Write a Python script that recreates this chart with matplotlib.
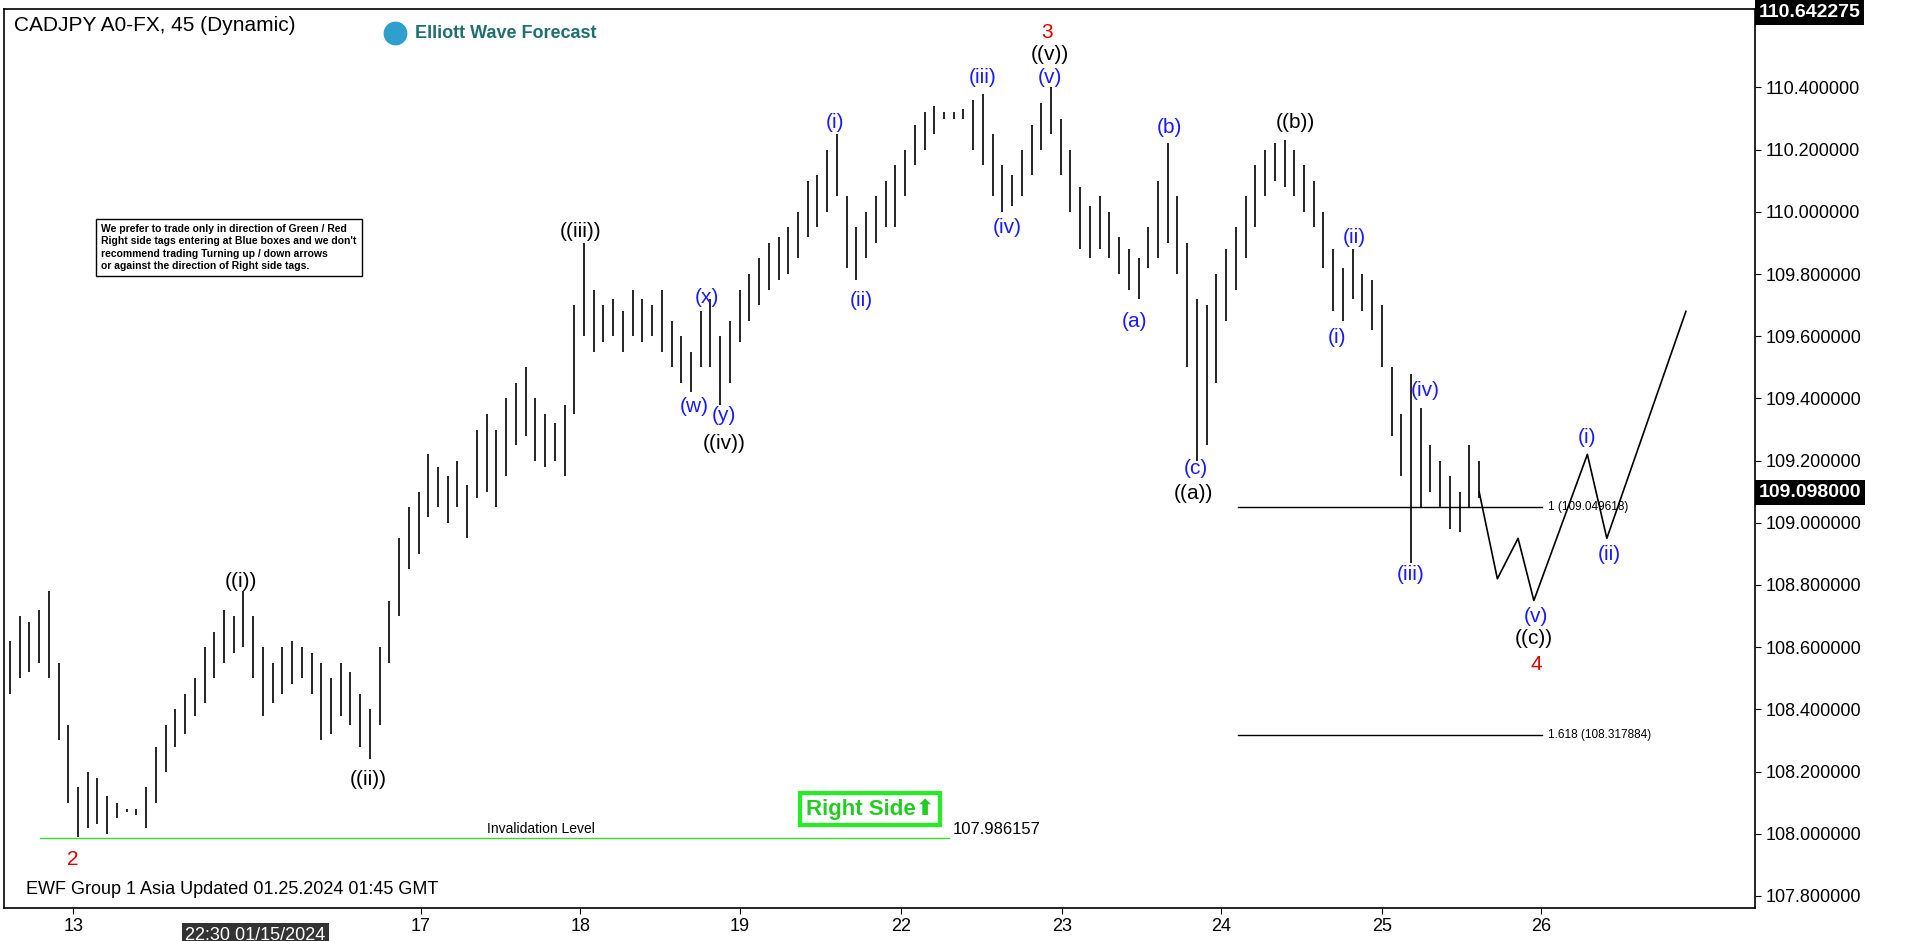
import matplotlib
matplotlib.use("Agg")
import matplotlib.pyplot as plt
from matplotlib.patches import Rectangle

plt.rcParams['font.family'] = ['Arial', 'Liberation Sans', 'DejaVu Sans']

# bar highs / lows (45 min bars, one every 8 chart units)
highs = [108.62, 108.7, 108.68, 108.72, 108.78, 108.55, 108.35, 108.15, 108.2, 108.18,
         108.12, 108.1, 108.08, 108.08, 108.15, 108.28, 108.35, 108.4, 108.45, 108.5,
         108.6, 108.65, 108.72, 108.7, 108.78, 108.7, 108.6, 108.55, 108.6, 108.62,
         108.6, 108.58, 108.55, 108.5, 108.55, 108.52, 108.45, 108.4, 108.6, 108.75,
         108.95, 109.05, 109.1, 109.22, 109.18, 109.15, 109.2, 109.12, 109.3, 109.35,
         109.3, 109.4, 109.45, 109.5, 109.4, 109.35, 109.32, 109.38, 109.7, 109.9,
         109.75, 109.7, 109.72, 109.68, 109.75, 109.72, 109.7, 109.75, 109.65, 109.6,
         109.55, 109.68, 109.72, 109.6, 109.65, 109.75, 109.8, 109.85, 109.9, 109.92,
         109.95, 110.0, 110.1, 110.12, 110.2, 110.25, 110.05, 109.95, 110.0, 110.05,
         110.1, 110.15, 110.2, 110.28, 110.32, 110.34, 110.32, 110.32, 110.33, 110.36,
         110.38, 110.25, 110.15, 110.12, 110.2, 110.28, 110.35, 110.4, 110.3, 110.2,
         110.08, 110.02, 110.05, 110.0, 109.92, 109.88, 109.85, 109.95, 110.1, 110.22,
         110.05, 109.9, 109.72, 109.7, 109.8, 109.88, 109.95, 110.05, 110.15, 110.2,
         110.22, 110.23, 110.2, 110.15, 110.1, 110.0, 109.88, 109.82, 109.88, 109.8,
         109.78, 109.7, 109.5, 109.35, 109.48, 109.37, 109.25, 109.2, 109.15, 109.1,
         109.25, 109.2]
lows = [108.45, 108.5, 108.52, 108.55, 108.5, 108.3, 108.1, 107.99, 108.02, 108.03,
        108.0, 108.05, 108.07, 108.06, 108.02, 108.1, 108.2, 108.28, 108.32, 108.38,
        108.42, 108.5, 108.55, 108.58, 108.6, 108.5, 108.38, 108.42, 108.45, 108.48,
        108.5, 108.45, 108.3, 108.32, 108.38, 108.35, 108.28, 108.24, 108.35, 108.55,
        108.7, 108.85, 108.9, 109.02, 109.05, 109.0, 109.05, 108.95, 109.08, 109.1,
        109.05, 109.15, 109.25, 109.28, 109.2, 109.18, 109.2, 109.15, 109.35, 109.6,
        109.55, 109.58, 109.6, 109.55, 109.6, 109.58, 109.6, 109.55, 109.5, 109.45,
        109.42, 109.5, 109.5, 109.38, 109.45, 109.58, 109.65, 109.7, 109.75, 109.78,
        109.8, 109.85, 109.92, 109.95, 110.0, 110.05, 109.82, 109.78, 109.85, 109.9,
        109.95, 109.95, 110.05, 110.15, 110.2, 110.25, 110.3, 110.3, 110.3, 110.2,
        110.15, 110.05, 110.0, 110.02, 110.05, 110.12, 110.2, 110.25, 110.12, 110.0,
        109.88, 109.85, 109.88, 109.85, 109.8, 109.75, 109.72, 109.82, 109.85, 109.9,
        109.8, 109.5, 109.2, 109.25, 109.45, 109.65, 109.75, 109.85, 109.95, 110.05,
        110.1, 110.08, 110.05, 110.0, 109.95, 109.82, 109.68, 109.65, 109.72, 109.68,
        109.62, 109.5, 109.28, 109.15, 108.87, 109.05, 109.1, 109.05, 108.98, 108.97,
        109.05, 109.08]

# projected path after the last bar
proj_x = [1213, 1228, 1245, 1258, 1302, 1318, 1383]
proj_y = [109.1, 108.82, 108.95, 108.75, 109.22, 108.95, 109.68]

tick_pos = [57, 343, 474, 605, 738, 870, 1001, 1133, 1264]
tick_lab = ['13', '17', '18', '19', '22', '23', '24', '25', '26']
price_ticks = [107.8 + 0.2 * i for i in range(14)]

# wave labels: x, price, text, colour
labels = [
    (57, 107.918, '2', 'red'), (195, 108.812, '((i))', 'k'), (300, 108.173, '((ii))', 'k'),
    (474, 109.937, '((iii))', 'k'), (568, 109.373, '(w)', 'b'), (578, 109.725, '(x)', 'b'),
    (592, 109.345, '(y)', 'b'), (592, 109.255, '((iv))', 'k'), (683, 110.286, '(i)', 'b'),
    (705, 109.714, '(ii)', 'b'), (805, 110.431, '(iii)', 'b'), (825, 109.949, '(iv)', 'b'),
    (860, 110.431, '(v)', 'b'), (860, 110.506, '((v))', 'k'), (858, 110.576, '3', 'red'),
    (930, 109.647, '(a)', 'b'), (958, 110.271, '(b)', 'b'), (980, 109.173, '(c)', 'b'),
    (978, 109.094, '((a))', 'k'), (1062, 110.286, '((b))', 'k'), (1096, 109.596, '(i)', 'b'),
    (1110, 109.918, '(ii)', 'b'), (1169, 109.424, '(iv)', 'b'), (1157, 108.835, '(iii)', 'b'),
    (1260, 108.698, '(v)', 'b'), (1258, 108.627, '((c))', 'k'), (1260, 108.545, '4', 'red'),
    (1302, 109.275, '(i)', 'b'), (1320, 108.898, '(ii)', 'b'),
]
colmap = {'b': '#1a1aff', 'k': 'black', 'red': '#e00000'}

fig = plt.figure(figsize=(19.12, 9.41), dpi=100)
ax = fig.add_axes([0.002, 0.035, 0.916, 0.955])
ax.set_xlim(0, 1440)
ax.set_ylim(107.761, 110.651)

for i, (h, l) in enumerate(zip(highs, lows)):
    x = 5 + 8 * i
    ax.vlines(x, l, h, color='black', lw=1.2)
ax.plot(proj_x, proj_y, color='black', lw=1.2)

for x, y, t, c in labels:
    ax.text(x, y, t, color=colmap[c], fontsize=15, ha='center', va='center')

# invalidation line
ax.plot([30, 777], [107.986, 107.986], color='#33dd33', lw=1)
ax.text(442, 107.994, 'Invalidation Level', fontsize=10, ha='center', va='bottom')
ax.text(780, 107.99, '107.986157', fontsize=12, ha='left', va='bottom')

# fib lines
ax.plot([1015, 1265], [109.0496, 109.0496], color='black', lw=1)
ax.text(1270, 109.0496, '1 (109.049618)', fontsize=8.5, va='center')
ax.plot([1015, 1265], [108.3179, 108.3179], color='black', lw=1)
ax.text(1270, 108.3179, '1.618 (108.317884)', fontsize=8.5, va='center')

ax.text(712, 108.08, 'Right Side\u2b06', fontsize=16, fontweight='bold', color='#22cc22',
        ha='center', va='center', family=['Liberation Sans', 'DejaVu Sans'],
        bbox=dict(facecolor='white', edgecolor='#22ee22', lw=3, boxstyle='square,pad=0.25'))

ax.text(80, 109.885,
        'We prefer to trade only in direction of Green / Red\n'
        'Right side tags entering at Blue boxes and we don\'t\n'
        'recommend trading Turning up / down arrows\n'
        'or against the direction of Right side tags.',
        fontsize=7.5, fontweight='bold', va='center', ha='left', linespacing=1.3,
        bbox=dict(facecolor='white', edgecolor='black', lw=1, boxstyle='square,pad=0.5'))

ax.text(8, 110.6, 'CADJPY A0-FX, 45 (Dynamic)', fontsize=15, va='center')
ax.text(338, 110.574, 'Elliott Wave Forecast', fontsize=13, fontweight='bold',
        color='#1f6f6f', va='center')
ax.scatter([322], [110.574], s=260, color='#2e9fcf', zorder=5)
ax.text(18, 107.82, 'EWF Group 1 Asia Updated 01.25.2024 01:45 GMT', fontsize=13, va='center')

ax.yaxis.tick_right()
ax.set_yticks(price_ticks)
ax.set_yticklabels(['%.6f' % p for p in price_ticks], fontsize=13)
ax.set_xticks(tick_pos)
ax.set_xticklabels(tick_lab, fontsize=13)
ax.tick_params(axis='both', length=4)
ax.text(207, -0.03, '22:30 01/15/2024', transform=ax.get_xaxis_transform(), fontsize=13,
        color='white', ha='center', va='center',
        bbox=dict(facecolor='#333333', edgecolor='none', boxstyle='square,pad=0.2'))

for yv, s in [(110.642, '110.642275'), (109.098, '109.098000')]:
    ax.text(1.002, yv, s, transform=ax.get_yaxis_transform(), fontsize=14,
            fontweight='bold', color='white', va='center', ha='left',
            bbox=dict(facecolor='black', edgecolor='none', boxstyle='square,pad=0.2'),
            clip_on=False)

for sp in ax.spines.values():
    sp.set_linewidth(1.2)

fig.savefig('out.png')
